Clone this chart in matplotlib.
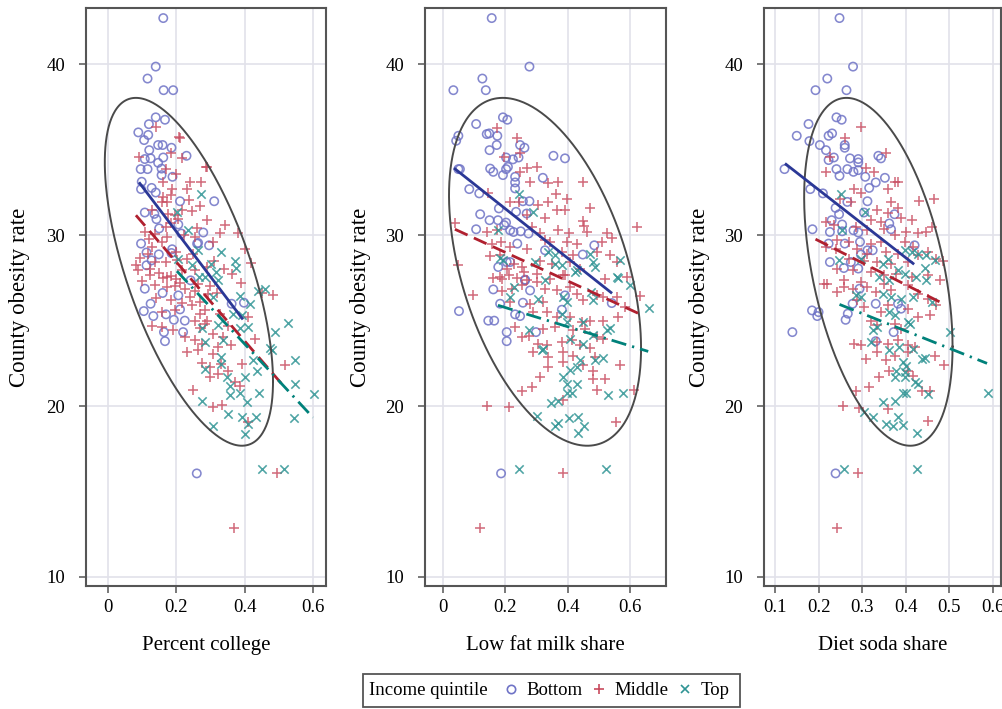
import numpy as np
import matplotlib
matplotlib.use('Agg')
import matplotlib.pyplot as plt
from matplotlib.lines import Line2D
from matplotlib.patches import Rectangle

plt.rcParams['font.family'] = ['Liberation Serif', 'DejaVu Serif']

# ---- data (x, obesity rate) ----
college_bottom = [(0.162,42.71),(0.140,39.87),(0.116,39.17),(0.163,38.49),(0.191,38.49),
    (0.140,36.9),(0.167,36.76),(0.120,36.5),(0.089,36.02),(0.118,35.87),(0.106,35.57),
    (0.147,35.28),(0.160,35.28),(0.186,35.12),(0.121,34.98),(0.230,34.65),(0.162,34.55),
    (0.125,34.5),(0.108,34.46),(0.147,34.24),(0.096,33.87),(0.116,33.87),(0.157,33.9),
    (0.189,33.42),(0.157,33.52),(0.099,33.13),(0.097,32.7),(0.128,32.77),(0.140,32.5),
    (0.211,31.99),(0.311,31.99),(0.108,31.33),(0.136,31.25),(0.142,30.94),(0.206,30.63),
    (0.279,30.16),(0.097,29.51),(0.261,29.51),(0.296,29.41),(0.113,28.99),(0.188,29.18),
    (0.128,28.53),(0.113,28.24),(0.149,28.88),(0.186,28.96),(0.264,29.55),(0.242,27.36),
    (0.206,26.48),(0.108,26.87),(0.125,25.99),(0.105,25.56),(0.133,25.27),(0.170,25.37),
    (0.193,25.05),(0.225,25.0),(0.211,25.66),(0.164,24.33),(0.220,24.33),(0.167,23.8),
    (0.160,26.62),(0.398,26.05),(0.362,25.99),(0.26,16.06),(0.150,30.4),(0.215,30.1)]
college_middle = [(0.142,36.32),(0.211,35.67),(0.091,34.59),(0.184,34.79),(0.218,34.5),
    (0.289,34.0),(0.170,33.87),(0.162,33.09),(0.189,32.68),(0.240,33.09),(0.272,33.09),
    (0.162,32.25),(0.186,32.35),(0.238,32.05),(0.269,31.72),(0.157,31.95),(0.172,31.92),
    (0.245,31.41),(0.218,31.47),(0.128,31.47),(0.176,31.23),(0.196,31.17),(0.342,30.59),
    (0.328,30.16),(0.381,30.16),(0.401,29.18),(0.308,29.61),(0.255,29.9),(0.223,30.0),
    (0.094,28.69),(0.118,28.88),(0.082,28.24),(0.157,29.61),(0.172,29.9),(0.138,30.1),
    (0.206,30.94),(0.186,30.69),(0.138,28.43),(0.169,28.43),(0.201,28.53),(0.089,27.95),
    (0.123,28.05),(0.15,27.79),(0.216,27.95),(0.255,27.95),(0.289,28.14),(0.172,27.55),
    (0.199,27.46),(0.123,27.65),(0.162,27.52),(0.186,27.6),(0.138,27.07),(0.172,26.97),
    (0.196,27.0),(0.225,26.87),(0.362,27.71),(0.484,26.48),(0.264,27.13),(0.255,26.73),
    (0.294,26.58),(0.186,26.19),(0.218,26.03),(0.245,25.9),(0.157,25.5),(0.196,25.6),
    (0.284,25.6),(0.328,25.41),(0.411,25.21),(0.128,24.66),(0.157,24.62),(0.191,24.47),
    (0.255,25.0),(0.269,24.59),(0.284,24.82),(0.225,24.04),(0.255,23.84),(0.276,23.65),
    (0.308,24.23),(0.337,24.04),(0.23,23.16),(0.264,23.26),(0.308,23.06),(0.323,23.45),
    (0.274,22.51),(0.298,22.28),(0.332,22.47),(0.298,21.69),(0.323,21.85),(0.352,22.08),
    (0.391,22.47),(0.386,21.2),(0.372,21.4),(0.248,20.95),(0.308,19.93),(0.335,20.05),
    (0.411,19.08),(0.518,22.38),(0.495,16.06),(0.369,12.86),(0.209,35.73),(0.287,33.98),
    (0.11,30.2),(0.13,29.3),(0.2,29.0),(0.23,28.6),(0.25,28.9),(0.10,27.3),(0.14,26.3),
    (0.24,26.4),(0.27,26.1),(0.21,27.2),(0.3,27.0),(0.32,26.6),(0.35,24.7),(0.23,32.7),
    (0.2,33.6),(0.26,30.4),(0.29,30.9),(0.31,28.5),(0.34,28.0),(0.39,27.2),(0.17,30.5),
    (0.12,29.8),(0.27,25.4),(0.36,23.6),(0.43,23.9),(0.45,26.6),(0.42,28.4),(0.29,25.0)]
college_top = [(0.272,32.39),(0.201,31.37),(0.233,30.29),(0.332,28.99),(0.264,29.12),
    (0.372,28.48),(0.374,28.08),(0.206,28.63),(0.303,28.34),(0.247,28.24),(0.315,27.85),
    (0.266,27.55),(0.284,27.55),(0.323,27.36),(0.308,26.38),(0.386,26.42),(0.416,25.99),
    (0.44,26.73),(0.459,26.83),(0.367,25.41),(0.391,25.31),(0.528,24.88),(0.489,24.33),
    (0.323,24.72),(0.274,24.59),(0.386,24.59),(0.411,24.62),(0.284,23.74),(0.337,23.84),
    (0.474,23.41),(0.479,23.26),(0.332,22.9),(0.33,22.47),(0.425,22.71),(0.547,22.71),
    (0.284,22.18),(0.401,21.69),(0.347,21.69),(0.357,21.2),(0.437,22.08),(0.547,21.3),
    (0.357,20.65),(0.386,20.75),(0.443,20.75),(0.603,20.71),(0.274,20.32),(0.406,20.22),
    (0.35,19.54),(0.393,19.34),(0.433,19.34),(0.411,18.95),(0.308,18.86),(0.401,18.37),
    (0.545,19.28),(0.452,16.29),(0.515,16.29)]

milk_bottom = [(0.156,42.71),(0.277,39.87),(0.126,39.17),(0.033,38.49),(0.137,38.49),
    (0.192,36.9),(0.206,36.76),(0.106,36.51),(0.049,35.82),(0.042,35.53),(0.14,35.92),
    (0.148,35.96),(0.174,35.82),(0.172,35.28),(0.247,35.28),(0.261,35.12),(0.149,34.98),
    (0.354,34.65),(0.391,34.5),(0.202,34.55),(0.224,34.44),(0.242,34.55),(0.208,34.0),
    (0.202,33.87),(0.049,33.87),(0.054,33.87),(0.151,33.9),(0.161,33.71),(0.192,33.52),
    (0.32,33.36),(0.231,33.42),(0.231,33.09),(0.231,32.74),(0.084,32.7),(0.116,32.45),
    (0.256,31.99),(0.277,31.99),(0.179,31.57),(0.234,31.37),(0.268,31.27),(0.119,31.23),
    (0.149,30.88),(0.176,30.88),(0.202,30.74),(0.196,30.59),(0.215,30.29),(0.226,30.19),
    (0.249,30.23),(0.106,30.35),(0.274,30.1),(0.238,29.51),(0.485,29.41),(0.327,29.12),
    (0.448,28.87),(0.204,28.43),(0.215,28.43),(0.177,28.14),(0.263,27.36),(0.263,27.4),
    (0.279,26.77),(0.161,26.83),(0.183,25.99),(0.256,26.05),(0.231,25.37),(0.247,25.27),
    (0.391,26.48),(0.381,25.64),(0.541,26.03),(0.051,25.56),(0.145,25.0),(0.164,25.0),
    (0.298,24.33),(0.204,24.33),(0.204,23.8),(0.186,16.06)]
milk_middle = [(0.172,36.3),(0.238,35.67),(0.247,34.79),(0.196,34.59),(0.268,33.95),
    (0.302,34.0),(0.247,33.71),(0.448,33.09),(0.37,33.09),(0.279,33.09),(0.338,33.03),
    (0.363,32.39),(0.397,32.15),(0.145,32.45),(0.215,31.95),(0.245,31.95),(0.306,31.76),
    (0.338,31.95),(0.365,31.47),(0.391,31.47),(0.472,31.57),(0.268,31.17),(0.327,30.98),
    (0.448,30.82),(0.452,30.55),(0.623,30.49),(0.038,30.74),(0.142,30.19),(0.172,30.29),
    (0.285,30.49),(0.311,30.16),(0.37,30.29),(0.405,30.16),(0.461,30.19),(0.525,30.16),
    (0.541,29.81),(0.509,29.61),(0.156,29.51),(0.186,29.61),(0.327,29.71),(0.343,29.61),
    (0.397,29.61),(0.429,29.51),(0.215,29.31),(0.268,29.22),(0.381,29.02),(0.418,28.87),
    (0.493,29.02),(0.151,28.77),(0.183,28.83),(0.536,28.83),(0.557,28.43),(0.049,28.24),
    (0.226,28.34),(0.252,28.14),(0.311,28.48),(0.349,28.34),(0.407,28.43),(0.44,28.05),
    (0.204,28.05),(0.258,27.85),(0.301,27.75),(0.386,27.65),(0.161,27.5),(0.188,27.46),
    (0.52,27.46),(0.589,27.55),(0.183,27.55),(0.21,27.65),(0.236,27.52),(0.268,27.36),
    (0.097,26.48),(0.188,26.73),(0.22,26.87),(0.252,27.07),(0.301,27.26),(0.343,27.46),
    (0.391,27.65),(0.327,26.87),(0.365,26.77),(0.407,26.97),(0.429,26.58),(0.45,26.19),
    (0.493,26.48),(0.514,26.38),(0.557,26.38),(0.584,25.79),(0.632,26.42),(0.215,26.09),
    (0.279,25.99),(0.322,26.09),(0.29,25.5),(0.333,25.5),(0.365,25.21),(0.407,25.21),
    (0.445,24.92),(0.472,25.0),(0.514,25.0),(0.562,25.21),(0.231,24.62),(0.252,24.04),
    (0.274,24.13),(0.322,24.52),(0.359,24.62),(0.418,24.43),(0.456,24.52),(0.493,24.04),
    (0.514,23.94),(0.306,23.65),(0.333,23.55),(0.381,23.74),(0.413,23.84),(0.472,23.41),
    (0.44,23.55),(0.29,23.16),(0.338,22.86),(0.386,23.16),(0.418,22.96),(0.488,22.86),
    (0.386,22.57),(0.338,22.28),(0.45,22.38),(0.568,22.38),(0.482,22.08),(0.52,21.6),
    (0.311,21.69),(0.482,21.6),(0.285,21.14),(0.252,20.91),(0.493,20.95),(0.611,20.95),
    (0.142,20.03),(0.213,19.93),(0.386,20.36),(0.555,19.08),(0.384,16.06),(0.119,12.86)]
milk_top = [(0.245,32.39),(0.288,31.37),(0.177,30.29),(0.472,28.93),(0.338,29.02),
    (0.359,28.83),(0.183,28.67),(0.193,28.53),(0.295,28.43),(0.359,28.34),(0.381,28.28),
    (0.482,28.43),(0.488,28.14),(0.568,28.53),(0.429,27.95),(0.557,27.55),(0.327,27.36),
    (0.6,27.07),(0.226,26.97),(0.215,26.38),(0.306,26.29),(0.386,26.38),(0.397,26.09),
    (0.424,27.85),(0.475,26.68),(0.482,26.19),(0.562,27.52),(0.659,25.74),(0.381,25.41),
    (0.397,24.92),(0.45,24.92),(0.525,24.47),(0.536,24.59),(0.274,24.47),(0.407,23.94),
    (0.322,23.36),(0.317,23.26),(0.45,23.65),(0.482,24.19),(0.44,22.67),(0.488,22.71),
    (0.514,22.83),(0.429,22.28),(0.407,22.14),(0.384,21.73),(0.397,21.3),(0.429,21.3),
    (0.53,20.67),(0.578,20.75),(0.397,20.75),(0.413,20.75),(0.346,20.16),(0.37,20.28),
    (0.301,19.43),(0.405,19.3),(0.434,19.34),(0.452,18.86),(0.359,18.86),(0.37,18.99),
    (0.434,18.4),(0.245,16.29),(0.521,16.29)]

soda_bottom = [(0.248,42.71),(0.279,39.87),(0.22,39.17),(0.193,38.49),(0.264,38.49),
    (0.241,36.9),(0.253,36.76),(0.177,36.51),(0.15,35.82),(0.179,35.51),(0.223,35.82),
    (0.231,35.96),(0.203,35.28),(0.217,34.98),(0.26,35.28),(0.26,35.12),(0.235,34.55),
    (0.223,34.4),(0.272,34.5),(0.291,34.46),(0.291,34.26),(0.337,34.65),(0.343,34.5),
    (0.122,33.87),(0.241,33.87),(0.266,33.87),(0.28,33.71),(0.291,33.81),(0.248,33.48),
    (0.307,33.42),(0.352,33.36),(0.331,33.09),(0.316,32.77),(0.181,32.7),(0.21,32.45),
    (0.312,31.99),(0.266,31.95),(0.239,31.6),(0.247,31.23),(0.304,31.33),(0.374,31.23),
    (0.23,30.88),(0.254,30.63),(0.362,30.69),(0.366,30.35),(0.186,30.35),(0.226,30.19),
    (0.254,30.23),(0.28,30.29),(0.291,30.16),(0.26,29.51),(0.223,29.51),(0.295,29.61),
    (0.312,29.12),(0.324,29.12),(0.42,29.41),(0.297,28.87),(0.274,28.43),(0.226,28.43),
    (0.258,28.08),(0.291,28.05),(0.294,26.87),(0.185,25.6),(0.197,25.27),(0.2,25.5),
    (0.267,25.41),(0.262,25.05),(0.278,25.99),(0.331,25.99),(0.382,25.99),(0.389,25.7),
    (0.14,24.33),(0.372,24.33),(0.331,23.8),(0.239,16.06)]
soda_middle = [(0.298,36.32),(0.26,35.67),(0.355,34.79),(0.227,34.59),(0.308,33.95),
    (0.328,33.68),(0.216,33.71),(0.382,33.09),(0.376,33.09),(0.281,32.7),(0.297,32.45),
    (0.358,32.7),(0.464,32.15),(0.429,31.99),(0.25,32.15),(0.274,31.95),(0.366,31.95),
    (0.382,31.57),(0.335,31.47),(0.358,31.33),(0.32,30.88),(0.343,30.78),(0.389,30.98),
    (0.413,30.88),(0.216,30.78),(0.235,30.59),(0.285,30.49),(0.312,30.29),(0.351,30.39),
    (0.374,30.0),(0.401,30.19),(0.428,30.16),(0.447,30.19),(0.459,30.49),(0.243,29.71),
    (0.27,29.61),(0.32,29.51),(0.343,29.61),(0.397,29.61),(0.416,29.31),(0.216,29.31),
    (0.239,29.18),(0.289,29.22),(0.312,28.93),(0.355,29.02),(0.382,28.93),(0.428,28.87),
    (0.451,29.02),(0.27,28.63),(0.304,28.48),(0.335,28.43),(0.366,28.34),(0.405,28.43),
    (0.47,28.63),(0.486,28.48),(0.243,28.05),(0.278,27.95),(0.32,27.85),(0.351,27.65),
    (0.378,27.75),(0.413,27.55),(0.212,27.17),(0.258,27.36),(0.297,27.26),(0.451,27.65),
    (0.478,27.36),(0.22,27.13),(0.243,26.68),(0.258,26.97),(0.278,26.87),(0.312,26.97),
    (0.331,26.68),(0.351,27.17),(0.366,26.77),(0.405,27.07),(0.428,26.58),(0.451,26.29),
    (0.47,25.9),(0.289,26.19),(0.304,25.79),(0.343,25.5),(0.359,25.9),(0.405,25.7),
    (0.428,25.21),(0.455,25.31),(0.32,25.0),(0.335,24.72),(0.374,24.82),(0.389,24.52),
    (0.281,23.65),(0.297,23.55),(0.335,23.74),(0.359,23.65),(0.382,23.84),(0.405,23.55),
    (0.42,23.45),(0.467,22.96),(0.488,22.38),(0.308,22.77),(0.335,23.16),(0.355,22.67),
    (0.374,22.96),(0.405,23.16),(0.339,21.69),(0.362,22.08),(0.416,21.79),(0.405,22.08),
    (0.436,20.91),(0.455,20.91),(0.316,21.14),(0.285,20.91),(0.257,20.03),(0.293,19.9),
    (0.451,19.14),(0.359,19.84),(0.291,16.06),(0.243,12.86)]
soda_top = [(0.252,32.39),(0.306,31.37),(0.254,30.29),(0.397,29.12),(0.413,29.02),
    (0.428,28.93),(0.447,28.83),(0.359,28.63),(0.347,28.34),(0.247,28.53),(0.297,28.63),
    (0.443,28.08),(0.467,28.53),(0.382,27.95),(0.397,27.75),(0.424,27.55),(0.447,27.36),
    (0.339,27.55),(0.362,27.36),(0.285,26.48),(0.297,26.38),(0.347,26.58),(0.366,26.38),
    (0.389,26.29),(0.416,26.38),(0.459,26.09),(0.362,25.5),(0.374,25.31),(0.405,24.92),
    (0.409,24.78),(0.335,24.62),(0.324,24.43),(0.32,23.74),(0.362,23.26),(0.385,23.45),
    (0.416,23.36),(0.501,24.33),(0.436,22.77),(0.443,22.83),(0.393,22.57),(0.401,22.32),
    (0.378,22.08),(0.374,21.69),(0.397,21.69),(0.397,22.0),(0.42,21.4),(0.428,21.3),
    (0.393,20.75),(0.401,20.75),(0.451,20.71),(0.588,20.75),(0.347,20.22),(0.374,20.32),
    (0.304,19.64),(0.324,19.34),(0.382,19.34),(0.355,18.95),(0.37,18.86),(0.393,18.91),
    (0.426,18.4),(0.258,16.29),(0.426,16.29)]

# fitted lines per group: (x start, x end), (y start, y end)
college_fit = {'Bottom': ((0.091, 0.395), (33.1, 25.07)),
               'Middle': ((0.082, 0.518), (31.17, 21.08)),
               'Top': ((0.202, 0.60), (27.9, 19.33))}
milk_fit = {'Bottom': ((0.035, 0.542), (33.93, 26.6)),
            'Middle': ((0.038, 0.626), (30.35, 25.43)),
            'Top': ((0.176, 0.658), (25.9, 23.2))}
soda_fit = {'Bottom': ((0.123, 0.419), (34.2, 28.3)),
            'Middle': ((0.193, 0.489), (29.77, 25.95)),
            'Top': ((0.248, 0.586), (25.95, 22.5))}

# ellipse: centre x, centre y, half range x, half range y, correlation
college_ell = (0.237, 27.86, 0.246, 10.18, -0.63)
milk_ell = (0.327, 27.86, 0.308, 10.18, -0.44)
soda_ell = (0.337, 27.86, 0.170, 10.18, -0.43)

xlabels = ['Percent college', 'Low fat milk share', 'Diet soda share']
xticks = [[0, 0.2, 0.4, 0.6], [0, 0.2, 0.4, 0.6], [0.1, 0.2, 0.3, 0.4, 0.5, 0.6]]
xlims = [(-0.064, 0.638), (-0.058, 0.715), (0.075, 0.618)]
yticks = [10, 20, 30, 40]

# ---- styling ----
c_bot, c_mid, c_top = '#6f73c6', '#c84a5e', '#2f9494'
l_bot, l_mid, l_top = '#2b3896', '#b0202f', '#00817a'
grid_c = '#e2e2ea'
spine_c = '#555555'

fig = plt.figure(figsize=(10.02, 7.09), dpi=100)
lefts = [86, 425, 764]
widths = [240, 241, 237]
ylab_x = [-0.235, -0.222, -0.228]

panels = [(college_bottom, college_middle, college_top, college_fit, college_ell),
          (milk_bottom, milk_middle, milk_top, milk_fit, milk_ell),
          (soda_bottom, soda_middle, soda_top, soda_fit, soda_ell)]

for i, (bot, mid, top, fit, ell) in enumerate(panels):
    ax = fig.add_axes([lefts[i]/1002, 123/709, widths[i]/1002, 578/709])
    ax.set_xlim(xlims[i])
    ax.set_ylim(9.47, 43.3)
    ax.set_xticks(xticks[i])
    ax.set_xticklabels(['0' if t == 0 else '%g' % t for t in xticks[i]])
    ax.set_yticks(yticks)
    ax.grid(True, color=grid_c, lw=1.2)
    ax.set_axisbelow(True)
    for s in ax.spines.values():
        s.set_color(spine_c)
        s.set_linewidth(1.5)
    ax.tick_params(axis='both', direction='out', length=5, width=1.1, color=spine_c,
                   labelsize=13.5)
    ax.tick_params(axis='y', pad=10)
    ax.tick_params(axis='x', pad=4)

    b = np.array(bot); m = np.array(mid); t = np.array(top)
    ax.scatter(b[:, 0], b[:, 1], s=36, facecolors='none', edgecolors=c_bot,
               linewidths=1.15, alpha=0.85, zorder=3)
    ax.scatter(m[:, 0], m[:, 1], s=42, marker='+', color=c_mid,
               linewidths=1.15, alpha=0.8, zorder=3)
    ax.scatter(t[:, 0], t[:, 1], s=36, marker='x', color=c_top,
               linewidths=1.15, alpha=0.85, zorder=3)

    cx, cy, hx, hy, rho = ell
    tt = np.linspace(0, 2*np.pi, 400)
    ax.plot(cx + hx*np.cos(tt), cy + hy*(rho*np.cos(tt) + np.sqrt(1-rho**2)*np.sin(tt)),
            color='#4a4a4a', lw=1.4, zorder=4)

    ax.plot(*fit['Bottom'], color=l_bot, lw=2.0, zorder=5, solid_capstyle='butt')
    ax.plot(*fit['Middle'], color=l_mid, lw=2.0, zorder=5, linestyle=(0, (5, 2.5)))
    ax.plot(*fit['Top'], color=l_top, lw=2.0, zorder=5, linestyle=(0, (5.5, 2.2, 0.8, 2.2)))

    ax.set_ylabel('County obesity rate', fontsize=16.5)
    ax.yaxis.set_label_coords(ylab_x[i], 0.5)
    ax.set_xlabel(xlabels[i], fontsize=15)
    ax.xaxis.set_label_coords(0.5, -0.086)

# legend box at the bottom: title text + three marker entries inside one frame
yc = (709 - 690.5) / 709
fig.patches.append(Rectangle((363/1002, 2/709), 377/1002, 33/709, transform=fig.transFigure,
                             fill=False, edgecolor=spine_c, lw=1.3))
fig.text(369/1002, yc, 'Income quintile', fontsize=13.5, ha='left', va='center')
handles = [Line2D([], [], linestyle='none', marker='o', markerfacecolor='none',
                  markeredgecolor=c_bot, markersize=6, markeredgewidth=1.2),
           Line2D([], [], linestyle='none', marker='+', color=c_mid, markersize=7,
                  markeredgewidth=1.2),
           Line2D([], [], linestyle='none', marker='x', color=c_top, markersize=6,
                  markeredgewidth=1.2)]
leg = fig.legend(handles, ['Bottom', 'Middle', 'Top'],
                 loc='center left', bbox_to_anchor=(503/1002, yc), ncol=3,
                 fontsize=13.5, frameon=False, borderpad=0, borderaxespad=0,
                 handlelength=0.9, handletextpad=0.35, columnspacing=0.45)

fig.savefig('out.png', dpi=100)
